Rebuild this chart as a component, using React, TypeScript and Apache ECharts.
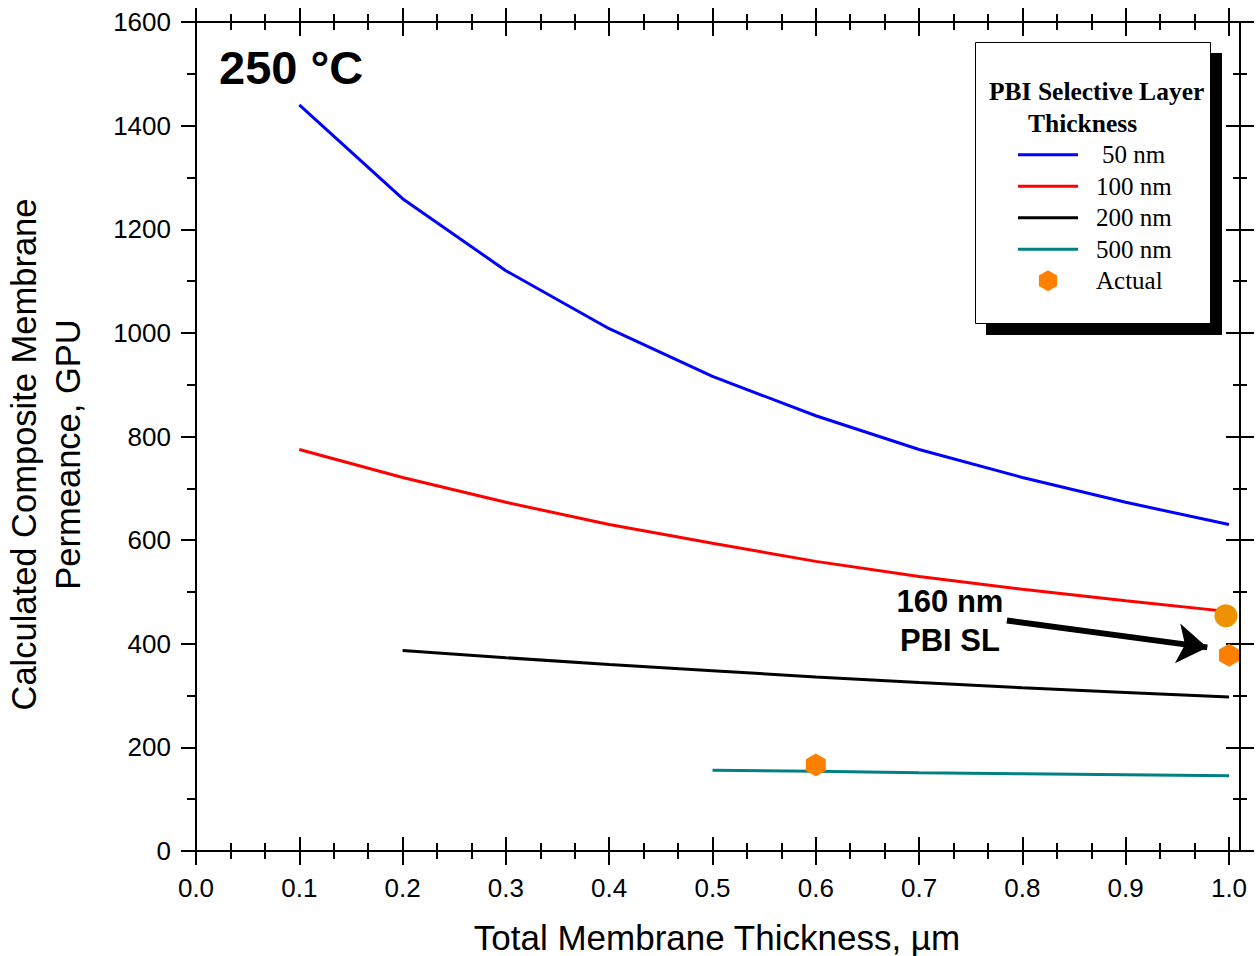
import React, { useEffect, useRef } from "react";
import * as echarts from "echarts";

// ---- data ----
const thicknessAll = [0.1, 0.2, 0.3, 0.4, 0.5, 0.6, 0.7, 0.8, 0.9, 1.0];
const perm50nm = [1440, 1259, 1120, 1008, 916, 840, 775, 721, 673, 630];
const perm100nm = [775, 721, 673, 630, 594, 559, 530, 505, 483, 462];
const thickness200 = [0.2, 0.3, 0.4, 0.5, 0.6, 0.7, 0.8, 0.9, 1.0];
const perm200nm = [387, 373, 360, 348, 336, 325, 315, 306, 297];
const thickness500 = [0.5, 0.6, 0.7, 0.8, 0.9, 1.0];
const perm500nm = [156, 154, 151, 149, 147, 145];
const actualHexX = [1.0, 0.6];
const actualHexY = [378, 166];
const actualCircleX = [0.997];
const actualCircleY = [454];
const arrowFrom = [0.785, 445];
const arrowTo = [0.979, 393];
const lineNames = ["50 nm", "100 nm", "200 nm", "500 nm"];
const pointName = "Actual";

const SANS = '"Liberation Sans", Arial, Helvetica, sans-serif';
const SERIF = '"Liberation Serif", "Times New Roman", Times, serif';
const HEX = "path://M0,-1L0.866,-0.5L0.866,0.5L0,1L-0.866,0.5L-0.866,-0.5Z";
const LINE_ICON = "path://M0,0H60V3H0Z";

const zip = (xs: number[], ys: number[]) => xs.map((x, i) => [x, ys[i]]);

function xAxisDef(position: string, inside: boolean, showLabel: boolean, extra: any = {}) {
  return {
    type: "value",
    position,
    min: 0,
    max: 1,
    interval: 0.1,
    axisLine: { show: true, onZero: false, lineStyle: { color: "#000", width: 2 } },
    axisTick: { show: true, inside, length: 14, lineStyle: { color: "#000", width: 2 } },
    minorTick: { show: true, splitNumber: 3, length: 8, lineStyle: { color: "#000", width: 2 } },
    splitLine: { show: false },
    minorSplitLine: { show: false },
    axisLabel: {
      show: showLabel,
      fontFamily: SANS,
      fontSize: 26,
      color: "#000",
      margin: 24,
      formatter: (v: number) => v.toFixed(1),
    },
    ...extra,
  };
}

function yAxisDef(position: string, inside: boolean, showLabel: boolean, len: number, minorLen: number, offset: number, extra: any = {}) {
  return {
    type: "value",
    position,
    offset,
    min: 0,
    max: 1600,
    interval: 200,
    axisLine: { show: true, onZero: false, lineStyle: { color: "#000", width: 2 } },
    axisTick: { show: true, inside, length: len, lineStyle: { color: "#000", width: 2 } },
    minorTick: { show: true, splitNumber: 2, length: minorLen, lineStyle: { color: "#000", width: 2 } },
    splitLine: { show: false },
    minorSplitLine: { show: false },
    axisLabel: {
      show: showLabel,
      fontFamily: SANS,
      fontSize: 26,
      color: "#000",
      margin: 25,
      formatter: (v: number) => String(v),
    },
    ...extra,
  };
}

function lineSeries(name: string, xs: number[], ys: number[], color: string) {
  return {
    name,
    type: "line",
    data: zip(xs, ys),
    symbol: "none",
    lineStyle: { color, width: 3 },
    itemStyle: { color },
    z: 3,
  };
}

export default function App() {
  const ref = useRef<HTMLDivElement>(null);
  useEffect(() => {
    if (!ref.current) return;
    const chart = echarts.init(ref.current, undefined, { renderer: "svg" });
    const option: any = {
      animation: false,
      backgroundColor: "#fff",
      grid: { left: 196, right: 29, top: 22, bottom: 105, containLabel: false, outerBoundsMode: "none" },
      xAxis: [
        xAxisDef("bottom", false, true, {
          name: "Total Membrane Thickness, µm",
          nameLocation: "middle",
          nameGap: 69,
          nameTextStyle: { fontFamily: SANS, fontSize: 35, color: "#000", padding: [0, 0, 0, 9] },
        }),
        xAxisDef("bottom", true, false),
        xAxisDef("top", false, false),
        xAxisDef("top", true, false),
      ],
      yAxis: [
        yAxisDef("left", false, true, 15, 9, 0, {
          name: "Calculated Composite Membrane\nPermeance, GPU",
          nameLocation: "middle",
          nameRotate: 90,
          nameGap: 106,
          nameTextStyle: { fontFamily: SANS, fontSize: 34.5, color: "#000", lineHeight: 44, padding: [0, 36, 0, 0] },
        }),
        yAxisDef("right", false, false, 14, 7, 11),
        yAxisDef("right", true, false, 14, 7, 11),
      ],
      legend: {
        data: [
          ...lineNames.map((n) => ({ name: n, icon: LINE_ICON })),
          { name: pointName, icon: HEX },
        ],
        orient: "vertical",
        left: 1018,
        top: 139,
        padding: 0,
        itemGap: 0,
        itemWidth: 60,
        itemHeight: 21,
        selectedMode: false,
        z: 6,
        formatter: (n: string) => (n === "50 nm" ? "{p|" + n + "}" : n),
        textStyle: {
          fontFamily: SERIF,
          fontSize: 25,
          color: "#000",
          lineHeight: 31.5,
          padding: [0, 0, 0, 13],
          rich: {
            p: { fontFamily: SERIF, fontSize: 25, color: "#000", lineHeight: 31.5, padding: [0, 0, 0, 6] },
          },
        },
      },
      graphic: [
        { type: "rect", z: 3, shape: { x: 986, y: 53, width: 236, height: 282 }, style: { fill: "#000" } },
        {
          type: "rect",
          z: 3,
          shape: { x: 975.5, y: 42.5, width: 235, height: 281 },
          style: { fill: "#fff", stroke: "#000", lineWidth: 1 },
        },
        {
          type: "text",
          z: 7,
          x: 989,
          y: 91.5,
          style: { text: "PBI Selective Layer", fontFamily: SERIF, fontSize: 25.5, fontWeight: "bold", fill: "#000", verticalAlign: "middle" },
        },
        {
          type: "text",
          z: 7,
          x: 1028,
          y: 123.5,
          style: { text: "Thickness", fontFamily: SERIF, fontSize: 25.5, fontWeight: "bold", fill: "#000", verticalAlign: "middle" },
        },
        {
          type: "text",
          z: 7,
          x: 219,
          y: 67,
          style: { text: "250 °C", fontFamily: SANS, fontSize: 47, fontWeight: "bold", fill: "#000", verticalAlign: "middle" },
        },
        {
          type: "text",
          z: 7,
          x: 950,
          y: 601.5,
          style: { text: "160 nm", fontFamily: SANS, fontSize: 31, fontWeight: "bold", fill: "#000", align: "center", verticalAlign: "middle" },
        },
        {
          type: "text",
          z: 7,
          x: 950,
          y: 640.5,
          style: { text: "PBI SL", fontFamily: SANS, fontSize: 31, fontWeight: "bold", fill: "#000", align: "center", verticalAlign: "middle" },
        },
      ],
      series: [
        lineSeries("50 nm", thicknessAll, perm50nm, "#0000FF"),
        lineSeries("100 nm", thicknessAll, perm100nm, "#FF0000"),
        lineSeries("200 nm", thickness200, perm200nm, "#000000"),
        lineSeries("500 nm", thickness500, perm500nm, "#008080"),
        {
          name: pointName,
          type: "scatter",
          data: zip(actualHexX, actualHexY),
          symbol: HEX,
          symbolSize: [20, 23],
          itemStyle: { color: "#FF8000", opacity: 1 },
          z: 5,
        },
        {
          name: "Actual (circle)",
          type: "scatter",
          data: zip(actualCircleX, actualCircleY),
          symbol: "circle",
          symbolSize: 23,
          itemStyle: { color: "#EE9200", opacity: 1 },
          z: 5,
          markLine: {
            silent: true,
            symbol: ["none", "arrow"],
            symbolSize: 30,
            label: { show: false },
            lineStyle: { color: "#000", width: 6, type: "solid", opacity: 1 },
            itemStyle: { color: "#000" },
            emphasis: { disabled: true },
            data: [[{ coord: arrowFrom }, { coord: arrowTo }]],
          },
        },
      ],
    };
    chart.setOption(option);
    return () => chart.dispose();
  }, []);
  return (
    <div
      ref={ref}
      style={{ position: "absolute", left: 0, top: 0, width: 1258, height: 956, background: "#fff" }}
    />
  );
}
